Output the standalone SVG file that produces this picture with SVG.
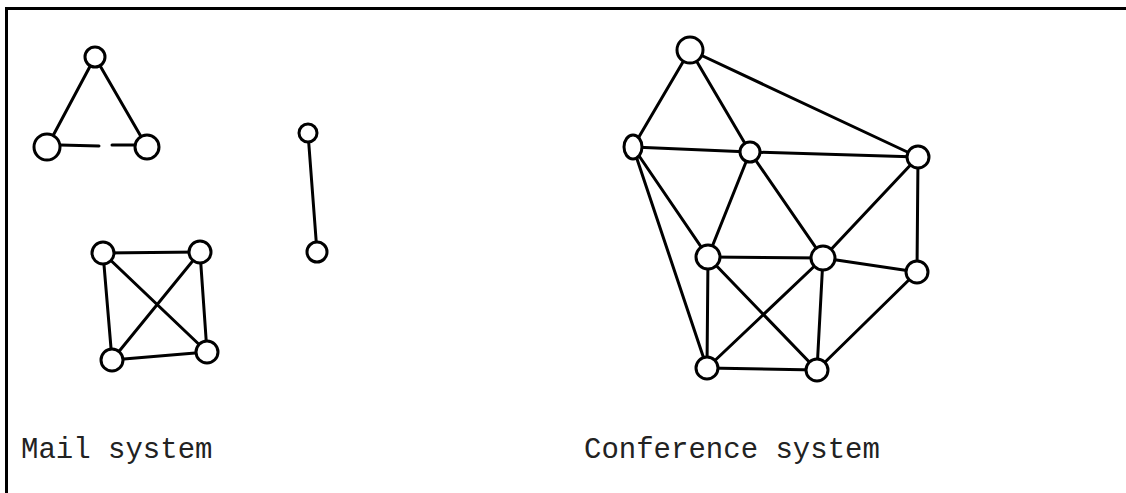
<svg xmlns="http://www.w3.org/2000/svg" width="1126" height="493" viewBox="0 0 1126 493">
<style>
.e{stroke:#000;stroke-width:3;stroke-linecap:round;fill:none}
.n{fill:#fff;stroke:#000;stroke-width:3}
.t{font-family:"Liberation Mono","Courier New",monospace;font-size:29px;fill:#222}
</style>
<rect x="0" y="0" width="1126" height="493" fill="#fff"/>
<path d="M6.5,493 V8.5 H1126" stroke="#000" stroke-width="3" fill="none"/>
<g id="connectors">
<line class="e" x1="95" y1="57" x2="47" y2="147"/>
<line class="e" x1="95" y1="57" x2="147" y2="147"/>
<line class="e" x1="60" y1="145" x2="99" y2="146"/>
<line class="e" x1="112" y1="145" x2="135" y2="145"/>
<line class="e" x1="308" y1="133" x2="317" y2="252"/>
<line class="e" x1="103" y1="253" x2="200" y2="252"/>
<line class="e" x1="103" y1="253" x2="112" y2="360"/>
<line class="e" x1="103" y1="253" x2="207" y2="352"/>
<line class="e" x1="200" y1="252" x2="112" y2="360"/>
<line class="e" x1="200" y1="252" x2="207" y2="352"/>
<line class="e" x1="112" y1="360" x2="207" y2="352"/>
<line class="e" x1="690" y1="50" x2="633" y2="147"/>
<line class="e" x1="690" y1="50" x2="750" y2="152"/>
<line class="e" x1="690" y1="50" x2="918" y2="157"/>
<line class="e" x1="633" y1="147" x2="750" y2="152"/>
<line class="e" x1="633" y1="147" x2="708" y2="257"/>
<line class="e" x1="633" y1="147" x2="707" y2="368"/>
<line class="e" x1="750" y1="152" x2="918" y2="157"/>
<line class="e" x1="750" y1="152" x2="708" y2="257"/>
<line class="e" x1="750" y1="152" x2="823" y2="258"/>
<line class="e" x1="918" y1="157" x2="823" y2="258"/>
<line class="e" x1="918" y1="157" x2="917" y2="272"/>
<line class="e" x1="708" y1="257" x2="823" y2="258"/>
<line class="e" x1="708" y1="257" x2="707" y2="368"/>
<line class="e" x1="708" y1="257" x2="817" y2="370"/>
<line class="e" x1="823" y1="258" x2="917" y2="272"/>
<line class="e" x1="823" y1="258" x2="707" y2="368"/>
<line class="e" x1="823" y1="258" x2="817" y2="370"/>
<line class="e" x1="917" y1="272" x2="817" y2="370"/>
<line class="e" x1="707" y1="368" x2="817" y2="370"/>
</g>
<g id="mail-tri-1"><circle class="n" cx="95" cy="57" r="10"/></g>
<g id="mail-tri-2"><circle class="n" cx="47" cy="147" r="13"/></g>
<g id="mail-tri-3"><circle class="n" cx="147" cy="147" r="12"/></g>
<g id="mail-pair-1"><circle class="n" cx="308" cy="133" r="9"/></g>
<g id="mail-pair-2"><circle class="n" cx="317" cy="252" r="10"/></g>
<g id="mail-sq-1"><circle class="n" cx="103" cy="253" r="11"/></g>
<g id="mail-sq-2"><circle class="n" cx="200" cy="252" r="11"/></g>
<g id="mail-sq-3"><circle class="n" cx="112" cy="360" r="11"/></g>
<g id="mail-sq-4"><circle class="n" cx="207" cy="352" r="11"/></g>
<g id="conf-a"><circle class="n" cx="690" cy="50" r="13"/></g>
<g id="conf-b"><ellipse class="n" cx="633" cy="147" rx="9" ry="12"/></g>
<g id="conf-c"><circle class="n" cx="750" cy="152" r="10"/></g>
<g id="conf-d"><circle class="n" cx="918" cy="157" r="11"/></g>
<g id="conf-e"><circle class="n" cx="708" cy="257" r="12"/></g>
<g id="conf-f"><circle class="n" cx="823" cy="258" r="12"/></g>
<g id="conf-g"><circle class="n" cx="917" cy="272" r="11"/></g>
<g id="conf-h"><circle class="n" cx="707" cy="368" r="11"/></g>
<g id="conf-i"><circle class="n" cx="817" cy="370" r="11"/></g>
<text class="t" x="21" y="458">Mail system</text>
<text class="t" x="584" y="458">Conference system</text>
</svg>
